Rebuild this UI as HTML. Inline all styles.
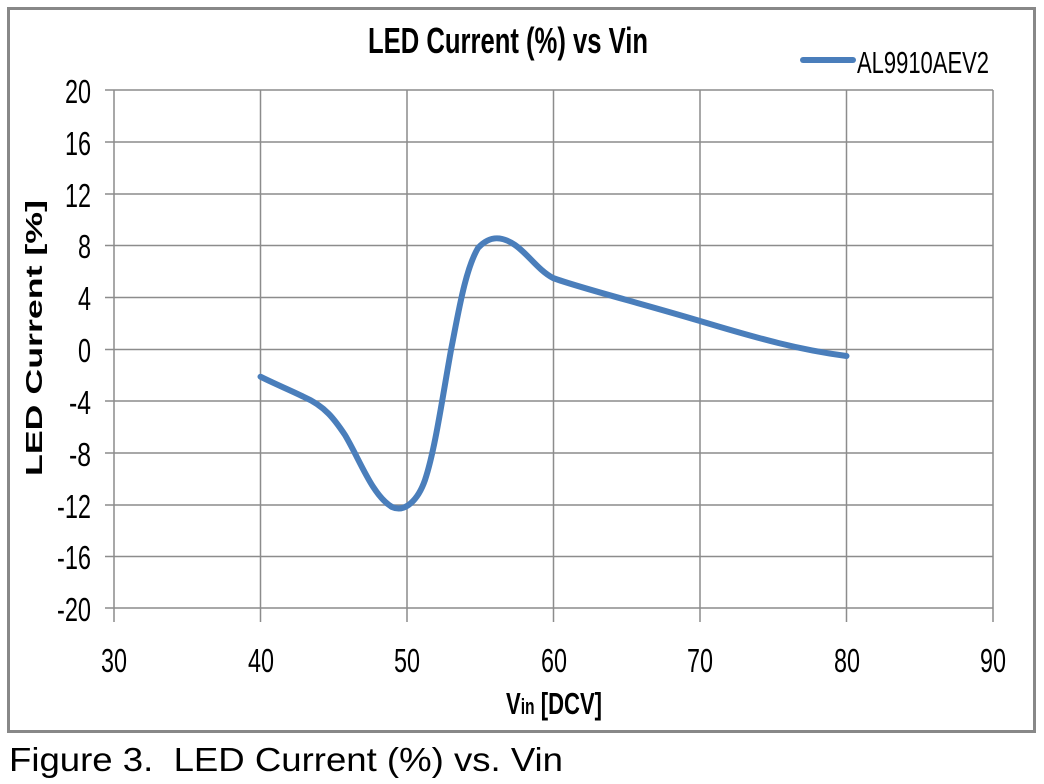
<!DOCTYPE html>
<html><head><style>body{margin:0;background:#fff}svg{display:block}</style></head>
<body>
<svg width="1044" height="784" xmlns="http://www.w3.org/2000/svg" font-family="Liberation Sans, sans-serif">
<rect x="0" y="0" width="1044" height="784" fill="#fff"/>
<rect x="8.5" y="8.5" width="1026" height="723" fill="#fff" stroke="#888" stroke-width="3"/>
<text x="508" y="53" font-size="36" font-weight="bold" text-anchor="middle" textLength="280" lengthAdjust="spacingAndGlyphs">LED Current (%) vs Vin</text>
<line x1="803" y1="60" x2="853" y2="60" stroke="#4a7ebb" stroke-width="6" stroke-linecap="round"/>
<text x="857" y="73" font-size="31" textLength="132" lengthAdjust="spacingAndGlyphs">AL9910AEV2</text>
<g stroke="#8c8c8c" stroke-width="1.5">
<line x1="114" y1="90" x2="114" y2="622"/>
<line x1="260.5" y1="90" x2="260.5" y2="622"/>
<line x1="407" y1="90" x2="407" y2="622"/>
<line x1="553.5" y1="90" x2="553.5" y2="622"/>
<line x1="700" y1="90" x2="700" y2="622"/>
<line x1="846.5" y1="90" x2="846.5" y2="622"/>
<line x1="993" y1="90" x2="993" y2="622"/>
<line x1="105" y1="90" x2="993" y2="90"/>
<line x1="105" y1="142" x2="993" y2="142"/>
<line x1="105" y1="194" x2="993" y2="194"/>
<line x1="105" y1="245.5" x2="993" y2="245.5"/>
<line x1="105" y1="297.5" x2="993" y2="297.5"/>
<line x1="105" y1="349.5" x2="993" y2="349.5"/>
<line x1="105" y1="401" x2="993" y2="401"/>
<line x1="105" y1="453" x2="993" y2="453"/>
<line x1="105" y1="505" x2="993" y2="505"/>
<line x1="105" y1="556.5" x2="993" y2="556.5"/>
<line x1="105" y1="608" x2="993" y2="608"/>
</g>
<g font-size="33" text-anchor="end">
<text x="91" y="103" textLength="26" lengthAdjust="spacingAndGlyphs">20</text>
<text x="91" y="155" textLength="26" lengthAdjust="spacingAndGlyphs">16</text>
<text x="91" y="207" textLength="26" lengthAdjust="spacingAndGlyphs">12</text>
<text x="91" y="258" textLength="13" lengthAdjust="spacingAndGlyphs">8</text>
<text x="91" y="310" textLength="13" lengthAdjust="spacingAndGlyphs">4</text>
<text x="91" y="362" textLength="13" lengthAdjust="spacingAndGlyphs">0</text>
<text x="91" y="414" textLength="22" lengthAdjust="spacingAndGlyphs">-4</text>
<text x="91" y="466" textLength="22" lengthAdjust="spacingAndGlyphs">-8</text>
<text x="91" y="518" textLength="34" lengthAdjust="spacingAndGlyphs">-12</text>
<text x="91" y="569" textLength="34" lengthAdjust="spacingAndGlyphs">-16</text>
<text x="91" y="621" textLength="34" lengthAdjust="spacingAndGlyphs">-20</text>
</g>
<g font-size="33" text-anchor="middle">
<text x="114" y="672" textLength="26" lengthAdjust="spacingAndGlyphs">30</text>
<text x="261" y="672" textLength="26" lengthAdjust="spacingAndGlyphs">40</text>
<text x="407" y="672" textLength="26" lengthAdjust="spacingAndGlyphs">50</text>
<text x="554" y="672" textLength="26" lengthAdjust="spacingAndGlyphs">60</text>
<text x="700" y="672" textLength="26" lengthAdjust="spacingAndGlyphs">70</text>
<text x="847" y="672" textLength="26" lengthAdjust="spacingAndGlyphs">80</text>
<text x="993" y="672" textLength="26" lengthAdjust="spacingAndGlyphs">90</text>
</g>
<text x="506" y="714" font-size="31" font-weight="bold" textLength="96" lengthAdjust="spacingAndGlyphs">V<tspan font-size="22">in</tspan> [DCV]</text>
<text transform="translate(42,338) rotate(-90)" font-size="23" font-weight="bold" text-anchor="middle" textLength="276" lengthAdjust="spacingAndGlyphs">LED Current  [%]</text>
<path d="M260.5,376.7 C275,384 290,390 304,397 C325,406 335,420 345,435 C360,460 372,495 392,507 C405,513 418,500 425,480 C435,450 442,400 451,350 C458,315 465,270 478,248 C490,235 502,236 515,245 C528,254 538,270 553,278 C580,288 640,303 700,321 C760,339 800,350 846.5,356" fill="none" stroke="#4a7ebb" stroke-width="6" stroke-linecap="round" stroke-linejoin="round"/>
<text x="9" y="771" font-size="33" fill="#000" textLength="554" lengthAdjust="spacingAndGlyphs" xml:space="preserve">Figure 3.  LED Current (%) vs. Vin</text>
</svg>
</body></html>
